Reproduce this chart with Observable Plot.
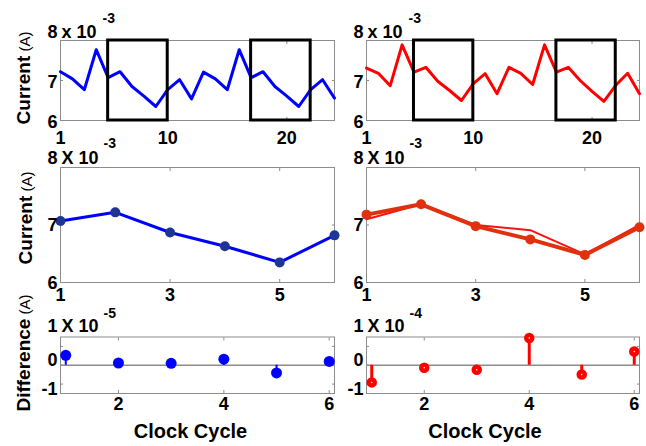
<!DOCTYPE html>
<html><head><meta charset="utf-8">
<script src="https://cdn.jsdelivr.net/npm/d3@7"></script>
<script src="https://cdn.jsdelivr.net/npm/@observablehq/plot@0.6"></script>
<style>
body{margin:0;background:#fff;}
#chart{position:relative;width:646px;height:446px;overflow:hidden;background:#fff;font-family:'Liberation Sans',Arial,sans-serif;}
#chart svg{position:absolute;max-width:none;overflow:visible;background:transparent;}
.ylab{position:absolute;white-space:nowrap;transform:translate(-50%,-50%) rotate(-90deg);line-height:1;color:#000;}
.ylab b{font-size:19px;font-weight:bold;}
.ylab span{font-size:15px;}
</style></head><body><div id="chart"></div>
<script>
// ---- data (currents in units of 1e-3 A, differences in 1e-5 A / 1e-4 A) ----
const cycles24 = [1,2,3,4,5,6,7,8,9,10,11,12,13,14,15,16,17,18,19,20,21,22,23,24];
const traceBlue = [7.22,7.04,6.77,7.77,7.07,7.22,6.85,6.61,6.35,6.77,7.02,6.54,7.21,7.04,6.77,7.77,7.07,7.22,6.85,6.61,6.35,6.77,7.02,6.56];
const traceRed  = [7.31,7.18,6.87,7.89,7.21,7.33,6.98,6.75,6.50,6.92,7.17,6.67,7.33,7.18,6.90,7.89,7.21,7.33,7.00,6.73,6.48,6.88,7.18,6.67];
const boxStart = [5, 17];
const boxEnd = [10, 22];
const cycles6 = [1,2,3,4,5,6];
const avgBlue = [7.07,7.22,6.87,6.63,6.35,6.82];
const avgRedA = [7.18,7.36,6.98,6.75,6.48,6.96];
const avgRedB = [7.10,7.36,7.00,6.91,6.49,7.00];
const diffBlue = [0.53,0.12,0.10,0.32,-0.41,0.20];   // x 1e-5
const diffRed  = [-0.91,-0.13,-0.24,1.45,-0.49,0.73]; // x 1e-4
const topTicksX = [1,10,20];
const midTicksX = [1,3,5];
const botTicksX = [2,4,6];
const yLabels = [["Current", "(A)"], ["Current", "(A)"], ["Difference", "(A)"]];

const FONT = "'Liberation Sans', Arial, sans-serif";
const GRAY = "#8c8c8c";
const chart = document.getElementById("chart");
const pairs = (xs, ys) => xs.map((x, i) => ({x, y: ys[i]}));
const fmt = d => String(d);

function inwardTicks(xt, yt) {
  const o = {tickSize: -3, tickFormat: () => "", stroke: GRAY, label: null};
  return [
    Plot.axisX({...o, anchor: "bottom", ticks: xt}),
    Plot.axisX({...o, anchor: "top", ticks: xt}),
    Plot.axisY({...o, anchor: "left", ticks: yt}),
    Plot.axisY({...o, anchor: "right", ticks: yt})
  ];
}
const lab = {tickSize: 0, fontSize: 18, fontWeight: "bold", fill: "black", label: null, tickFormat: fmt};
function txt(s, o) {
  return Plot.text([s], {fontWeight: "bold", fill: "black", ...o});
}
function place(svg, left, top) {
  svg.style.left = left + "px";
  svg.style.top = top + "px";
  chart.appendChild(svg);
}
function yLabel([main, unit], cx, cy) {
  const d = document.createElement("div");
  d.className = "ylab";
  d.style.left = cx + "px";
  d.style.top = cy + "px";
  const b = document.createElement("b"); b.textContent = main;
  const s = document.createElement("span"); s.textContent = " " + unit;
  d.appendChild(b); d.appendChild(s);
  chart.appendChild(d);
}

const colL = {left: 0, width: 340, marginLeft: 60, marginRight: 6};
const colR = {left: 320, width: 326, marginLeft: 46, marginRight: 7};

function exponent(base, exp, dyBase, dyExp, dxExp) {
  return [
    txt(base, {frameAnchor: "top-left", textAnchor: "start", lineAnchor: "middle", fontSize: 18, dx: 1, dy: dyBase}),
    txt(exp, {frameAnchor: "top-left", textAnchor: "start", lineAnchor: "middle", fontSize: 14, dx: dxExp, dy: dyExp})
  ];
}
const svgStyle = {fontFamily: FONT, background: "transparent", overflow: "visible"};

// ---- top row ----
function topPanel(col, values, color) {
  return Plot.plot({
    width: col.width, height: 150, marginLeft: col.marginLeft, marginRight: col.marginRight,
    marginTop: 40, marginBottom: 30, style: svgStyle,
    x: {domain: [1, 24]}, y: {domain: [6, 8]},
    marks: [
      Plot.frame({stroke: GRAY}),
      ...inwardTicks([10, 20], [7]),
      Plot.line(pairs(cycles24, values), {x: "x", y: "y", stroke: color, strokeWidth: 3}),
      Plot.rect(boxStart.map((s, i) => ({s, e: boxEnd[i]})), {x1: "s", x2: "e", fill: "none", stroke: "black", strokeWidth: 3}),
      Plot.axisX({...lab, anchor: "bottom", ticks: topTicksX, tickPadding: 11}),
      Plot.axisY({...lab, anchor: "left", ticks: [6, 7], tickPadding: 3, dy: 2}),
      Plot.axisY({...lab, anchor: "left", ticks: [8], tickPadding: 3, dy: -8}),
      ...exponent("x 10", "-3", -8, -22, 42)
    ]
  });
}
place(topPanel(colL, traceBlue, "#0000ff"), colL.left, 0);
place(topPanel(colR, traceRed, "#ff0000"), colR.left, 0);

// ---- middle row ----
function midPanel(col, series) {
  return Plot.plot({
    width: col.width, height: 160, marginLeft: col.marginLeft, marginRight: col.marginRight,
    marginTop: 27, marginBottom: 18, style: svgStyle,
    x: {domain: [1, 6]}, y: {domain: [6, 8]},
    marks: [
      Plot.frame({stroke: GRAY}),
      ...inwardTicks([3, 5], [7]),
      ...series,
      Plot.axisX({...lab, anchor: "bottom", ticks: midTicksX, tickPadding: 6}),
      Plot.axisY({...lab, anchor: "left", ticks: [6, 7], tickPadding: 3, dy: 0.5}),
      Plot.axisY({...lab, anchor: "left", ticks: [8], tickPadding: 3, dy: -9.5}),
      ...exponent("X 10", "-3", -9.5, -24, 43)
    ]
  });
}
place(midPanel(colL, [
  Plot.line(pairs(cycles6, avgBlue), {x: "x", y: "y", stroke: "#0000ff", strokeWidth: 3}),
  Plot.dot(pairs(cycles6, avgBlue), {x: "x", y: "y", r: 5, fill: "#1f3596"})
]), colL.left, 140);
place(midPanel(colR, [
  Plot.line(pairs(cycles6, avgRedB), {x: "x", y: "y", stroke: "#ff1010", strokeWidth: 2}),
  Plot.line(pairs(cycles6, avgRedA), {x: "x", y: "y", stroke: "#e0300e", strokeWidth: 4}),
  Plot.dot(pairs(cycles6, avgRedA), {x: "x", y: "y", r: 5, fill: "#e0300e"})
]), colR.left, 140);

// ---- bottom row ----
function botPanel(col, series, exp, xLabelDx) {
  return Plot.plot({
    width: col.width, height: 166, marginLeft: col.marginLeft, marginRight: col.marginRight,
    marginTop: 56.5, marginBottom: 53, style: svgStyle,
    x: {domain: [0.9, 6.1]}, y: {domain: [-1.5, 1.5]},
    marks: [
      Plot.frame({stroke: GRAY}),
      ...inwardTicks(botTicksX, [-1, 0, 1]),
      Plot.ruleY([0], {stroke: GRAY, strokeWidth: 1.5}),
      ...series,
      Plot.axisX({...lab, anchor: "bottom", ticks: botTicksX, tickPadding: 4}),
      Plot.axisY({...lab, anchor: "left", ticks: [0], tickPadding: 3, dy: -5}),
      Plot.axisY({...lab, anchor: "left", ticks: [-1], tickPadding: 3, dy: 5}),
      Plot.axisY({...lab, anchor: "left", ticks: [1], tickPadding: 3, dy: -20}),
      ...exponent("X 10", exp, -11, -23, 43),
      txt("Clock Cycle", {frameAnchor: "bottom", fontSize: 20, lineAnchor: "middle", dx: xLabelDx, dy: 38.5})
    ]
  });
}
place(botPanel(colL, [
  Plot.ruleX(pairs(cycles6, diffBlue), {x: "x", y1: 0, y2: "y", stroke: "#0000ff", strokeWidth: 2}),
  Plot.dot(pairs(cycles6, diffBlue), {x: "x", y: "y", r: 5.5, fill: "#0000ff"})
], "-5", -7), colL.left, 280);
place(botPanel(colR, [
  Plot.ruleX(pairs(cycles6, diffRed), {x: "x", y1: 0, y2: "y", stroke: "#ff0000", strokeWidth: 3}),
  Plot.dot(pairs(cycles6, diffRed), {x: "x", y: "y", r: 3, fill: "white", stroke: "#ff0000", strokeWidth: 4.5})
], "-4", -18), colR.left, 280);

// ---- y-axis titles ----
yLabel(yLabels[0], 22.5, 77.5);
yLabel(yLabels[1], 25, 217.5);
yLabel(yLabels[2], 23, 353);
</script>
</body></html>
